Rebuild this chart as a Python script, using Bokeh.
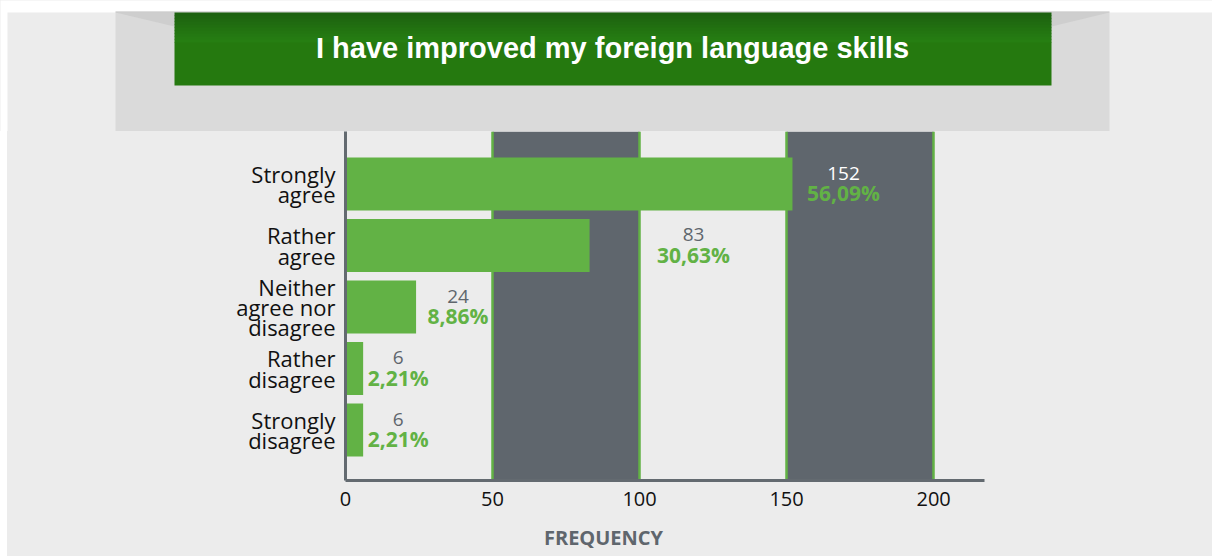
from bokeh.plotting import figure
from bokeh.models import Range1d, FixedTicker, ColumnDataSource, Spacer
from bokeh.layouts import column, row
from bokeh.core.properties import value
from bokeh.embed import file_html
from bokeh.resources import INLINE

# ---- data ----
categories = ["Strongly\nagree", "Rather\nagree", "Neither\nagree nor\ndisagree",
              "Rather\ndisagree", "Strongly\ndisagree"]
counts = [152, 83, 24, 6, 6]
x_ticks = [0, 50, 100, 150, 200]
title_text = "I have improved my foreign language skills"
x_title = "FREQUENCY"

total = sum(counts)
pct_labels = [f"{c / total * 100:.2f}%".replace(".", ",") for c in counts]

# ---- layout / style ----
label_dx = [51, 104, 42, 35, 35]
count_colors = ["#ffffff", "#5f666d", "#5f666d", "#5f666d", "#5f666d"]
GREEN = "#62b245"
DARK = "#5f666d"
AXIS = "#636a70"
BG = "#ececec"
PAGE_W, PAGE_H = 1212, 556
HEAD_H = 131
LEFT_GAP = 7
MAIN_H = 384
FOOT_H = PAGE_H - HEAD_H - MAIN_H
SUB_W = PAGE_W - LEFT_GAP


def blank(width, height, x_end, y_end, fill):
    f = figure(width=width, height=height, output_backend="svg", toolbar_location=None,
               title=None, x_range=Range1d(0, x_end), y_range=Range1d(y_end, 0),
               x_axis_location=None, y_axis_location=None,
               min_border=0, min_border_left=0, min_border_right=0,
               min_border_top=0, min_border_bottom=0)
    f.background_fill_color = fill
    f.border_fill_color = fill
    f.outline_line_color = None
    f.xgrid.visible = False
    f.ygrid.visible = False
    return f


# ================= header (decorative panel with the title) =================
h = blank(PAGE_W, HEAD_H, PAGE_W, HEAD_H, "#ffffff")
h.quad(left=[LEFT_GAP, 115, 115], right=[PAGE_W + 10, 1109, 1109],
       top=[12, 12, 11], bottom=[HEAD_H + 1, HEAD_H + 1, 12],
       fill_color=[BG, "#dadada", "#bcbcbc"], line_color=None)
h.patches(xs=[[115, 174, 174], [1051, 1109, 1051]], ys=[[12, 12, 26], [12, 12, 26]],
          fill_color="#b8b8b8", fill_alpha=0.35, line_color=None)
top_c = (0x1d, 0x62, 0x10)
mid_c = (0x26, 0x7e, 0x12)
n = 10
g_top, g_bot, g_col = [], [], []
for i in range(n):
    f = i / (n - 1)
    c = tuple(int(round(top_c[k] + (mid_c[k] - top_c[k]) * f)) for k in range(3))
    g_top.append(12 + i * 3)
    g_bot.append(12 + (i + 1) * 3 + 0.5)
    g_col.append("#%02x%02x%02x" % c)
g_top.append(42)
g_bot.append(85)
g_col.append("#25790f")
h.quad(left=174, right=1051, top=g_top, bottom=g_bot, fill_color=g_col, line_color=None)
h.text(x=[612], y=[47], text=[title_text], text_align="center", text_baseline="middle",
       text_color="#ffffff", text_font=value("Liberation Sans"), text_font_style="bold",
       text_font_size="29px")

# ================= main chart =================
p = figure(width=SUB_W, height=MAIN_H, output_backend="svg", toolbar_location=None,
           title=None, x_range=Range1d(0, 217.3), y_range=Range1d(4.821, -0.854),
           min_border_left=338, min_border_right=228, min_border_top=0,
           min_border_bottom=MAIN_H - 349)
p.background_fill_color = BG
p.border_fill_color = BG
p.outline_line_color = None

p.ygrid.visible = False
p.xgrid.ticker = FixedTicker(ticks=x_ticks)
p.xgrid.grid_line_color = GREEN
p.xgrid.grid_line_width = 2.5
p.xgrid.band_fill_color = DARK
p.xgrid.band_fill_alpha = 1.0

src = ColumnDataSource(dict(
    y=list(range(len(categories))), count=counts, pct=pct_labels,
    count_str=[str(c) for c in counts], dx=label_dx, ccol=count_colors))

p.hbar(y="y", left=0, right="count", height=0.86, source=src,
       fill_color=GREEN, line_color=None)
p.text(x="count", y="y", text="count_str", x_offset="dx", y_offset=-11, source=src,
       text_color="ccol", text_font=value("Open Sans"), text_font_size="19px",
       text_align="center", text_baseline="middle")
p.text(x="count", y="y", text="pct", x_offset="dx", y_offset=9, source=src,
       text_color=GREEN, text_font=value("Open Sans"), text_font_size="21px",
       text_font_style="bold", text_align="center", text_baseline="middle")

xa = p.xaxis[0]
xa.ticker = FixedTicker(ticks=x_ticks)
xa.axis_line_color = AXIS
xa.axis_line_width = 3
xa.major_tick_line_color = None
xa.minor_tick_line_color = None
xa.major_label_text_font = "Open Sans"
xa.major_label_text_font_size = "20px"
xa.major_label_text_color = "#111111"
xa.major_label_standoff = 5

ya = p.yaxis[0]
ya.ticker = FixedTicker(ticks=list(range(len(categories))))
ya.major_label_overrides = {i: c for i, c in enumerate(categories)}
ya.axis_line_color = AXIS
ya.axis_line_width = 3
ya.major_tick_line_color = None
ya.minor_tick_line_color = None
ya.major_label_text_font = "Open Sans"
ya.major_label_text_font_size = "22px"
ya.major_label_text_color = "#111111"
ya.major_label_text_line_height = 0.68
ya.major_label_standoff = 4

# ================= footer with the axis title =================
ft = blank(SUB_W, FOOT_H, SUB_W, FOOT_H, BG)
ft.text(x=[603 - LEFT_GAP], y=[537 - HEAD_H - MAIN_H], text=[x_title],
        text_align="center", text_baseline="middle", text_color=DARK,
        text_font=value("Open Sans"), text_font_style="bold", text_font_size="20px")

white = {"background-color": "#ffffff"}
gray = {"background-color": BG}
layout = column(h,
                row(Spacer(width=LEFT_GAP, height=MAIN_H, styles=white), p),
                row(Spacer(width=LEFT_GAP, height=FOOT_H, styles=white), ft),
                styles=gray)
open("out.html", "w").write(file_html(layout, INLINE))
